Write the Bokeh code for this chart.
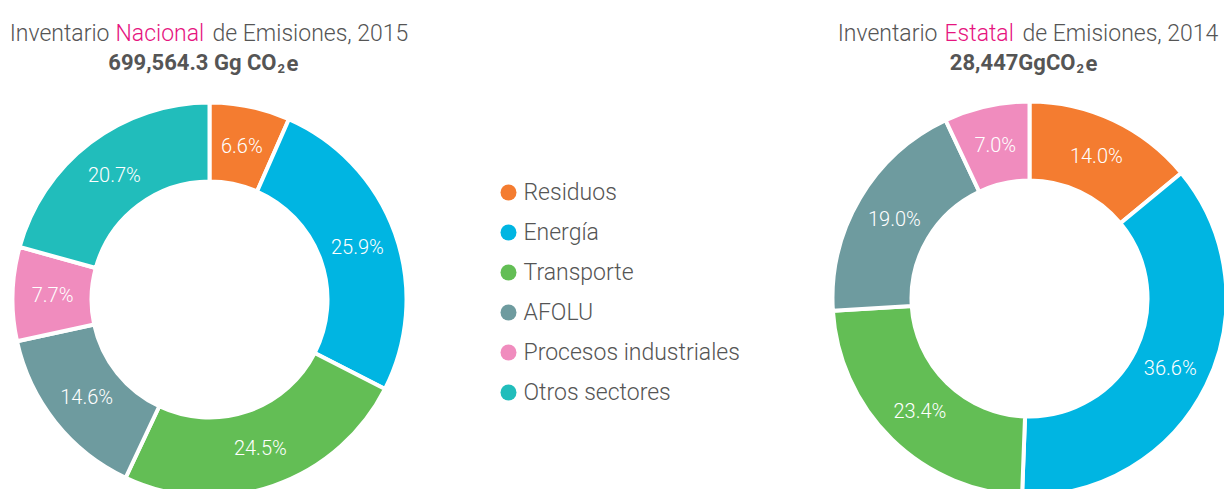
import numpy as np
from bokeh.plotting import figure
from bokeh.models import Range1d, ColumnDataSource
from bokeh.core.properties import value
from bokeh.embed import file_html
from bokeh.resources import INLINE

# ---------------- data ----------------
categories = ["Residuos", "Energía", "Transporte", "AFOLU", "Procesos industriales", "Otros sectores"]
colors = ["#F47C30", "#00B5E2", "#63BE55", "#6E9B9F", "#F08CBE", "#21BDBB"]
nacional_values = [6.6, 25.9, 24.5, 14.6, 7.7, 20.7]
estatal_values = [14.0, 36.6, 23.4, 19.0, 7.0]

nac_title = ["Inventario", "Nacional", "de Emisiones, 2015"]
nac_total = ["699,564.3 Gg CO", "2", "e"]
est_title = ["Inventario", "Estatal", "de Emisiones, 2014"]
est_total = ["28,447GgCO", "2", "e"]

FONT = "Roboto Light, Roboto"
BFONT = "Roboto"
GREY = "#555555"
PINK = "#E6157F"

W, H = 1224, 489


def Y(y):  # page pixel (from top) -> data y
    return H - y


p = figure(width=W, height=H, output_backend="svg", toolbar_location=None,
           x_range=Range1d(0, W), y_range=Range1d(0, H),
           min_border=0, outline_line_color=None)
p.axis.visible = False
p.grid.visible = False
p.background_fill_color = "white"


def donut(cx, cy, vals, cols):
    v = np.array(vals, dtype=float)
    frac = v / v.sum()
    cum = np.concatenate([[0], np.cumsum(frac)])
    start = np.pi / 2 - 2 * np.pi * cum[:-1]
    end = np.pi / 2 - 2 * np.pi * cum[1:]
    src = ColumnDataSource(dict(start=start, end=end, color=cols[:len(v)]))
    p.annular_wedge(x=cx, y=Y(cy), inner_radius=118, outer_radius=197,
                    inner_radius_units="screen", outer_radius_units="screen",
                    start_angle="start", end_angle="end", direction="clock",
                    fill_color="color", line_color="white", line_width=4, source=src)
    mid = (start + end) / 2
    r = 157
    lx = cx + r * np.cos(mid)
    ly = Y(cy) + r * np.sin(mid)
    labels = ["%.1f%%" % x for x in v]
    p.text(x=lx, y=ly, text=labels, text_color="white", text_font=value(FONT),
           text_font_size="20px", text_align="center", text_baseline="middle")


donut(209, 299, nacional_values, colors)
donut(1029, 298, estatal_values, colors)


def title(parts, x_end1, x_start2, x_start3, base):
    p.text(x=[x_end1], y=[Y(base)], text=[parts[0]], text_color=GREY, text_font=value(FONT),
           text_font_size="23px", text_align="right", text_baseline="alphabetic")
    p.text(x=[x_start2], y=[Y(base)], text=[parts[1]], text_color=PINK, text_font=value(FONT),
           text_font_size="23px", text_align="left", text_baseline="alphabetic")
    p.text(x=[x_start3], y=[Y(base)], text=[parts[2]], text_color=GREY, text_font=value(FONT),
           text_font_size="23px", text_align="left", text_baseline="alphabetic")


def total(parts, x_end, base):
    p.text(x=[x_end], y=[Y(base)], text=[parts[0]], text_color=GREY, text_font=value(BFONT),
           text_font_size="22px", text_font_style="bold", text_align="right", text_baseline="alphabetic")
    p.text(x=[x_end + 1], y=[Y(base + 6)], text=[parts[1]], text_color=GREY, text_font=value(BFONT),
           text_font_size="13px", text_font_style="bold", text_align="left", text_baseline="alphabetic")
    p.text(x=[x_end + 10], y=[Y(base)], text=[parts[2]], text_color=GREY, text_font=value(BFONT),
           text_font_size="22px", text_font_style="bold", text_align="left", text_baseline="alphabetic")


title(nac_title, 109, 115, 212, 33)
total(nac_total, 276, 62)
title(est_title, 937, 944, 1022, 33)
total(est_total, 1075, 62)

# legend
leg_y = [192 + 40 * i for i in range(len(categories))]
p.scatter(x=[508] * len(categories), y=[Y(v) for v in leg_y], size=16, marker="circle",
          fill_color=colors, line_color=None)
p.text(x=[523] * len(categories), y=[Y(v) for v in leg_y], text=categories, text_color=GREY,
       text_font=value(FONT), text_font_size="23px", text_align="left", text_baseline="middle")

open("out.html", "w").write(file_html(p, INLINE))
